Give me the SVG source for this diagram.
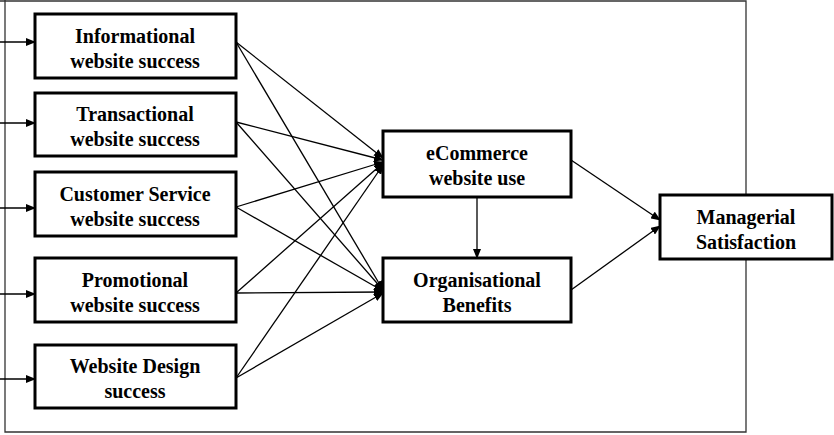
<svg xmlns="http://www.w3.org/2000/svg" width="834" height="435" viewBox="0 0 834 435">
<style>
.box{fill:#fff;stroke:#000;stroke-width:3}
.t{font-family:"Liberation Serif",serif;font-weight:bold;font-size:20px;text-anchor:middle}
.c{stroke:#000;stroke-width:1.3;fill:none;marker-end:url(#a)}
</style>
<defs><marker id="a" markerWidth="10" markerHeight="8" refX="9" refY="4" orient="auto" markerUnits="userSpaceOnUse"><path d="M0,0L10,4L0,8z"/></marker></defs>
<rect width="834" height="435" fill="#fff"/>
<g id="frame" fill="none" stroke="#333" stroke-width="1.3"><path d="M0,1H746V432H5V0"/></g>
<g id="connectors">
<path class="c" d="M0,42H35"/><path class="c" d="M0,123H35"/><path class="c" d="M0,208H35"/><path class="c" d="M0,294H35"/><path class="c" d="M0,379H35"/>
<path class="c" d="M236,42L383,158"/><path class="c" d="M236,42L383,290"/>
<path class="c" d="M236,122L383,160"/><path class="c" d="M236,122L383,290"/>
<path class="c" d="M236,207L383,162"/><path class="c" d="M236,207L383,291"/>
<path class="c" d="M236,293L383,163"/><path class="c" d="M236,293L383,292"/>
<path class="c" d="M236,378L383,165"/><path class="c" d="M236,378L383,293"/>
<path class="c" d="M477,197V258"/>
<path class="c" d="M571,160L660,220"/><path class="c" d="M571,290L660,226"/>
</g>
<g id="n1"><rect class="box" x="35" y="14" width="201" height="64"/><text class="t" x="135" y="43">Informational</text><text class="t" x="135" y="68">website success</text></g>
<g id="n2"><rect class="box" x="35" y="93" width="201" height="63"/><text class="t" x="135" y="121">Transactional</text><text class="t" x="135" y="146">website success</text></g>
<g id="n3"><rect class="box" x="35" y="172" width="201" height="64"/><text class="t" x="135" y="201">Customer Service</text><text class="t" x="135" y="226">website success</text></g>
<g id="n4"><rect class="box" x="35" y="258" width="201" height="64"/><text class="t" x="135" y="287">Promotional</text><text class="t" x="135" y="312">website success</text></g>
<g id="n5"><rect class="box" x="35" y="345" width="201" height="63"/><text class="t" x="135" y="373">Website Design</text><text class="t" x="135" y="398">success</text></g>
<g id="n6"><rect class="box" x="383" y="131" width="188" height="66"/><text class="t" x="477" y="160">eCommerce</text><text class="t" x="477" y="185">website use</text></g>
<g id="n7"><rect class="box" x="383" y="258" width="188" height="64"/><text class="t" x="477" y="287">Organisational</text><text class="t" x="477" y="312">Benefits</text></g>
<g id="n8"><rect class="box" x="660" y="195" width="172" height="64"/><text class="t" x="746" y="224">Managerial</text><text class="t" x="746" y="249">Satisfaction</text></g>
</svg>
